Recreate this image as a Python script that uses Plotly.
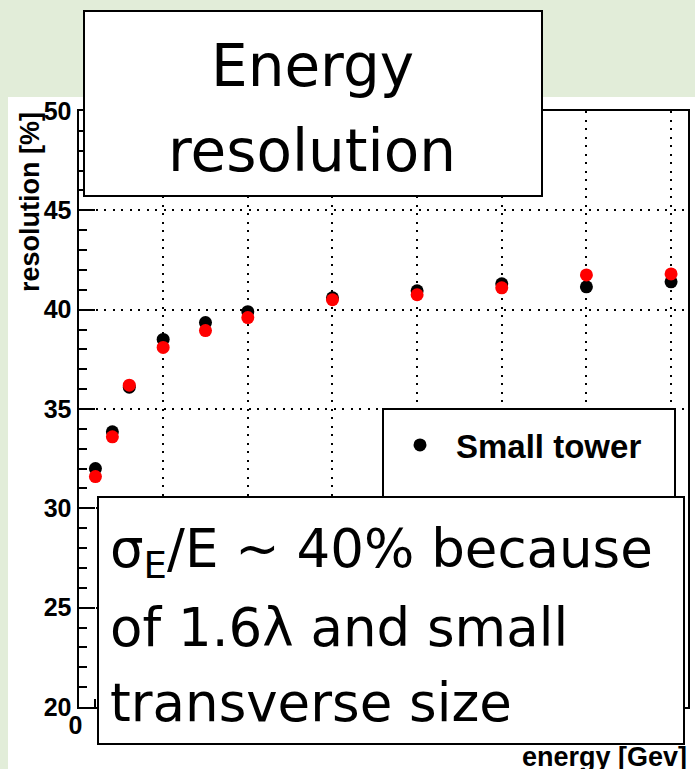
import plotly.graph_objects as go

# ---- data ----
energy = [1, 2, 3, 5, 7.5, 10, 15, 20, 25, 30, 35]
small_tower = [32.0, 33.85, 36.1, 38.5, 39.35, 39.9, 40.6, 40.95, 41.3, 41.15, 41.4]
second_series = [31.6, 33.6, 36.2, 38.1, 38.95, 39.6, 40.5, 40.75, 41.1, 41.75, 41.8]

x_ticks = [0, 5, 10, 15, 20, 25, 30, 35]
x_ticktext = ["0", "5", "10", "15", "20", "25", "30", "35"]
y_ticks = [20, 25, 30, 35, 40, 45, 50]
y_ticktext = ["20", "25", "30", "35", "40", "45", "50"]

title_lines = ["Energy", "resolution"]
note_lines = ["σ<sub>E</sub>/E ~ 40% because", "of 1.6λ and small", "transverse size"]

W, H = 695, 769
def px(x):
    return x / W
def py(y):
    return (H - y) / H

BG = "#e2edd9"
AX_FONT = "Liberation Sans, Arial, Helvetica, sans-serif"
HAND_FONT = "DejaVu Sans, sans-serif"

fig = go.Figure()
fig.add_trace(go.Scatter(x=energy, y=small_tower, mode="markers", name="Small tower",
                         marker=dict(color="black", size=13)))
fig.add_trace(go.Scatter(x=energy, y=second_series, mode="markers", name="second series",
                         showlegend=False, marker=dict(color="#ff0000", size=13)))

grid_dash = "2px,6.5px"
fig.update_xaxes(
    domain=[px(78.5), px(688)], range=[0, 36], automargin=False,
    tickmode="array", tickvals=x_ticks, ticktext=x_ticktext,
    ticks="inside", ticklen=16, tickwidth=2, tickcolor="black",
    minor=dict(dtick=1, ticks="inside", ticklen=8, tickwidth=2, tickcolor="black", showgrid=False),
    showline=True, linecolor="black", linewidth=2, mirror=True,
    showgrid=True, gridcolor="black", gridwidth=2, griddash=grid_dash,
    zeroline=False, ticklabelstandoff=-5, ticklabelshift=-3,
    tickfont=dict(family=AX_FONT, size=25, color="black", weight="bold"),
)
fig.update_yaxes(
    domain=[py(707), py(111)], range=[20, 50], automargin=False,
    tickmode="array", tickvals=y_ticks, ticktext=y_ticktext,
    ticks="inside", ticklen=16, tickwidth=2, tickcolor="black",
    minor=dict(dtick=1, ticks="inside", ticklen=8, tickwidth=2, tickcolor="black", showgrid=False),
    showline=True, linecolor="black", linewidth=2, mirror=True,
    showgrid=True, gridcolor="black", gridwidth=2, griddash=grid_dash,
    zeroline=False, ticklabelstandoff=0,
    tickfont=dict(family=AX_FONT, size=25, color="black", weight="bold"),
)

box_line = dict(color="black", width=2)
shapes = [
    # white slide panel behind the chart
    dict(type="rect", xref="paper", yref="paper", x0=px(8), x1=1.0, y0=0.0, y1=py(97),
         fillcolor="white", line=dict(width=0), layer="below"),
    # legend frame (lower part hidden by the text box)
    dict(type="rect", xref="paper", yref="paper", x0=px(383), x1=px(675), y0=py(560), y1=py(409),
         fillcolor="white", line=box_line, layer="above"),
    # "Energy resolution" text box
    dict(type="rect", xref="paper", yref="paper", x0=px(84), x1=px(542), y0=py(196), y1=py(11),
         fillcolor="white", line=box_line, layer="above"),
    # comment text box
    dict(type="rect", xref="paper", yref="paper", x0=px(98), x1=px(684), y0=py(744), y1=py(497),
         fillcolor="white", line=box_line, layer="above"),
]

annotations = []
for txt, yc in zip(title_lines, [66, 151]):
    annotations.append(dict(text=txt, xref="paper", yref="paper", x=px(312), y=py(yc),
                            xanchor="center", yanchor="middle", showarrow=False,
                            font=dict(family=HAND_FONT, size=58, color="black")))
for txt, yc in zip(note_lines, [552, 627, 702]):
    annotations.append(dict(text=txt, xref="paper", yref="paper", x=px(108), y=py(yc),
                            xanchor="left", yanchor="middle", showarrow=False,
                            font=dict(family=HAND_FONT, size=53, color="black")))
annotations += [
    dict(text="energy [Gev]", xref="paper", yref="paper", x=px(689), y=py(757),
         xanchor="right", yanchor="middle", showarrow=False,
         font=dict(family=AX_FONT, size=27, color="black", weight="bold")),
    dict(text="resolution [%]", xref="paper", yref="paper", x=px(30), y=py(110),
         xanchor="center", yanchor="top", showarrow=False, textangle=-90,
         font=dict(family=AX_FONT, size=27, color="black", weight="bold")),
]

fig.update_layout(
    width=W, height=H, autosize=False,
    margin=dict(l=0, r=0, t=0, b=0, pad=0, autoexpand=False),
    paper_bgcolor=BG, plot_bgcolor="white",
    shapes=shapes, annotations=annotations,
    showlegend=True,
    legend=dict(x=px(384), y=py(417), xanchor="left", yanchor="top",
                bgcolor="rgba(0,0,0,0)", borderwidth=0, itemwidth=62,
                font=dict(family=AX_FONT, size=33, color="black", weight="bold")),
)

fig.write_html(
    "out.html",
    config={"displayModeBar": False},
    post_script="document.body.style.margin='0';document.body.style.overflow='hidden';",
)
